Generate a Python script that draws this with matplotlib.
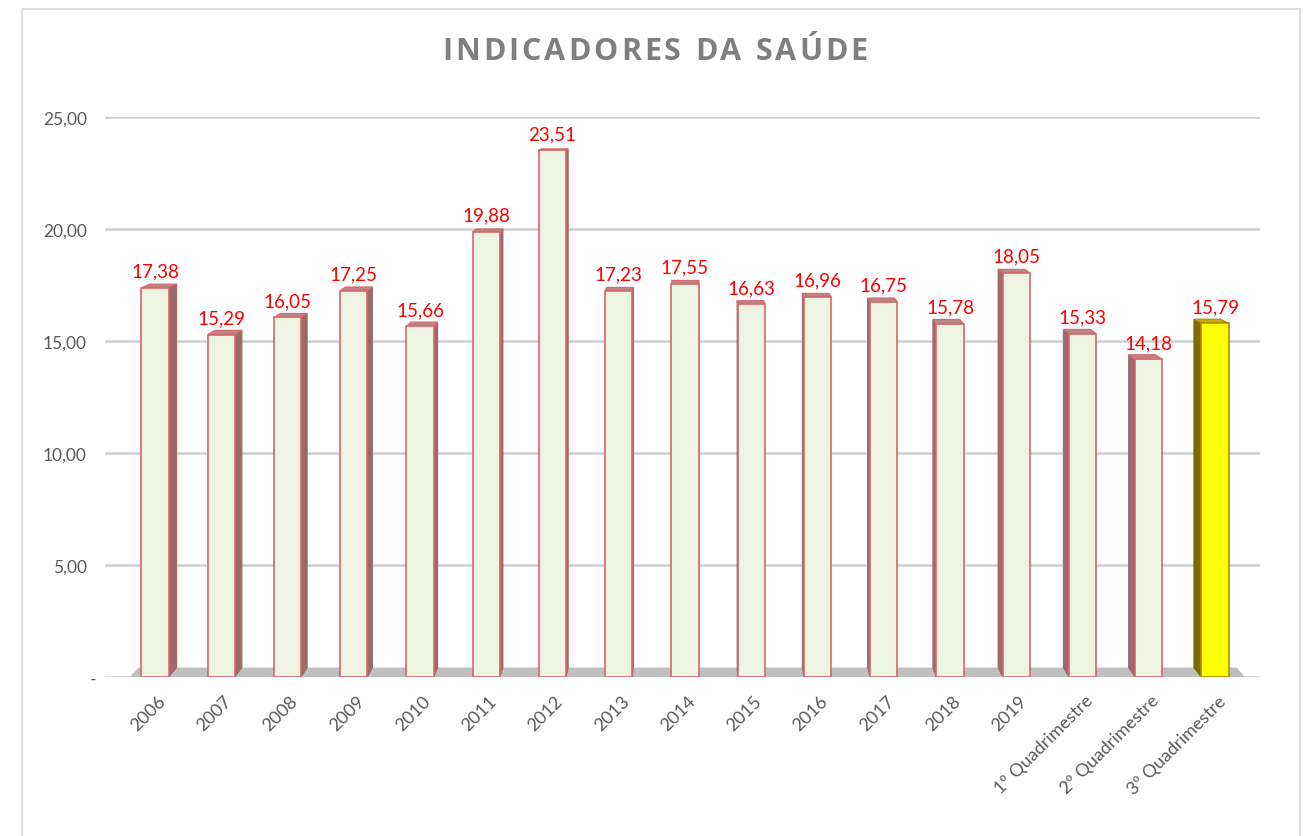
import matplotlib
matplotlib.use("Agg")
import matplotlib.pyplot as plt
from matplotlib.patches import Polygon, Rectangle
from matplotlib.transforms import ScaledTranslation
import numpy as np

# data
categories = ["2006", "2007", "2008", "2009", "2010", "2011", "2012", "2013",
              "2014", "2015", "2016", "2017", "2018", "2019",
              "1º Quadrimestre", "2º Quadrimestre", "3º Quadrimestre"]
values = [17.38, 15.29, 16.05, 17.25, 15.66, 19.88, 23.51, 17.23,
          17.55, 16.63, 16.96, 16.75, 15.78, 18.05, 15.33, 14.18, 15.79]
yticks = [0, 5, 10, 15, 20, 25]
title = "INDICADORES DA SAÚDE"

# fake 3d look: back face shrinks toward a vanishing point
VP = np.array([8.3, 28.0])
DEPTH = 0.015
WIDTH = 0.41


def back(pts):
    pts = np.asarray(pts, dtype=float)
    return VP + (pts - VP) * (1 - DEPTH)


def fmt(v):
    return ("%.2f" % v).replace(".", ",")


def draw_bar(ax, x, v, front, edge, side, top):
    x0, x1 = x - WIDTH / 2, x + WIDTH / 2
    # side face visible on the side facing the vanishing point
    xs = x1 if x < VP[0] else x0
    sp = np.array([[xs, 0], [xs, v]])
    ax.add_patch(Polygon(np.vstack([sp, back(sp)[::-1]]), closed=True,
                         facecolor=side, edgecolor=side, lw=0.8, zorder=3))
    tp = np.array([[x0, v], [x1, v]])
    ax.add_patch(Polygon(np.vstack([tp, back(tp)[::-1]]), closed=True,
                         facecolor=top, edgecolor=edge, lw=0.8, zorder=3))
    ax.add_patch(Rectangle((x0, 0), WIDTH, v, facecolor=front,
                           edgecolor=edge, lw=1.2, zorder=4))


fig = plt.figure(figsize=(13.03, 8.37), dpi=100)
fig.patch.set_facecolor("white")
# outer frame of the chart object
fig.patches.append(Rectangle((22 / 1303, -0.01), 1278 / 1303, 1 - 10 / 837 + 0.01,
                             transform=fig.transFigure, fill=False,
                             edgecolor="#D9D9D9", lw=1.2))

ax = fig.add_axes([105 / 1303, 1 - 678 / 837, 1155 / 1303, 560 / 837])
n = len(categories)
x = np.arange(n)
ax.set_xlim(-0.755, 16.68)
ax.set_ylim(0, 25)

# floor
fl = np.array([[-0.38, 0], [16.45, 0]])
ax.add_patch(Polygon(np.vstack([fl, back(fl)[::-1]]), closed=True,
                     facecolor="#BFBFBF", edgecolor="none", zorder=2))

for i, v in enumerate(values):
    if i == n - 1:
        draw_bar(ax, x[i], v, "#FFFF00", "#B8860B", "#7F6A00", "#C9A800")
    else:
        draw_bar(ax, x[i], v, "#EEF3E2", "#D9666B", "#9C6A6A", "#B98686")
    ax.annotate(fmt(v), (x[i], v), xytext=(0, 6), textcoords="offset points",
                ha="center", va="bottom", color="#FF0000", fontsize=13.5,
                family="Lato", zorder=6)

ax.set_yticks(yticks)
ax.set_yticklabels(["-" if t == 0 else fmt(t) for t in yticks],
                   color="#595959", fontsize=12.5, family="Lato")
ax.yaxis.grid(True, color="#CFCFCF", lw=1.8)
ax.set_axisbelow(True)
ax.tick_params(axis="y", length=0, pad=13)
ylab = ax.get_yticklabels()
ylab[0].set_transform(ylab[0].get_transform() +
                      ScaledTranslation(0.09, 0, fig.dpi_scale_trans))

ax.set_xticks(x)
ax.set_xticklabels(categories, rotation=45, ha="right", va="center",
                   rotation_mode="anchor", color="#595959", fontsize=13,
                   family="Lato")
ax.tick_params(axis="x", length=0, pad=15)
for lab in ax.get_xticklabels():
    lab.set_transform(lab.get_transform() +
                      ScaledTranslation(0.08, 0, fig.dpi_scale_trans))

for s in ax.spines.values():
    s.set_visible(False)

# title with letter spacing, placed char by char
renderer = fig.canvas.get_renderer()
tkw = dict(fontsize=22, fontweight="bold", color="#7F7F7F", family="Open Sans",
           va="center", ha="left")
track = 3.0
widths = []
for ch in title:
    if ch == " ":
        widths.append(8.0)
        continue
    t = fig.text(0, 0, ch, **tkw)
    widths.append(t.get_window_extent(renderer).width)
    t.remove()
total = sum(widths) + track * (len(title) - 1)
cx = 655 - total / 2
for ch, w in zip(title, widths):
    if ch != " ":
        fig.text(cx / 1303, 1 - 52 / 837, ch, **tkw)
    cx += w + track

fig.savefig("out.png", dpi=100)
